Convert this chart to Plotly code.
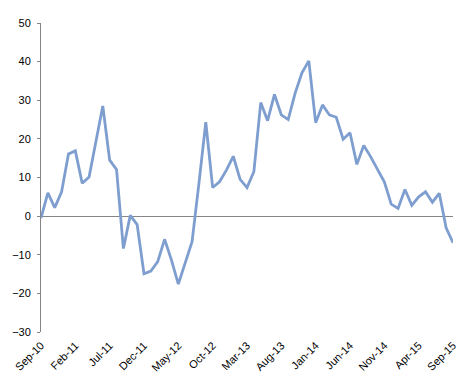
import plotly.graph_objects as go
import pandas as pd

months = [d.strftime("%b-%y") for d in pd.date_range("2010-09-01", "2015-09-01", freq="MS")]

values = [
    -0.5, 6.0, 2.2, 6.3, 16.1, 16.9, 8.5, 10.1, 19.3, 28.5,
    14.5, 12.1, -8.4, 0.2, -2.2, -14.9, -14.2, -11.8, -6.0, -11.4,
    -17.6, -12.3, -6.6, 8.5, 24.3, 7.4, 8.9, 11.9, 15.5, 9.5,
    7.4, 11.5, 29.4, 24.7, 31.5, 26.2, 25.0, 31.8, 37.1, 40.2,
    24.2, 28.8, 26.2, 25.6, 19.9, 21.6, 13.4, 18.3, 15.4, 12.1,
    8.9, 3.1, 2.0, 6.9, 2.8, 5.0, 6.3, 3.6, 5.9, -3.0,
    -6.9,
]

tick_labels = months[::5]

fig = go.Figure()
fig.add_trace(go.Scatter(
    x=months, y=values, mode="lines",
    line=dict(color="#7E9ED0", width=2.8),
    hoverinfo="skip",
))

# page body has an 8px default margin; size and margins compensate for it
fig.update_layout(
    width=468, height=375,
    margin=dict(l=33, r=23, t=15, b=51),
    paper_bgcolor="white", plot_bgcolor="white",
    showlegend=False,
    font=dict(family="Liberation Sans, Arial, sans-serif", size=11, color="#000000"),
)
fig.update_xaxes(
    type="category", automargin=False,
    range=[0, len(months) - 1],
    tickmode="array", tickvals=tick_labels, ticktext=tick_labels,
    tickangle=-45, showgrid=False, showline=False, zeroline=False,
    ticks="", tickfont=dict(size=11), ticklabelstandoff=4,
)
fig.update_yaxes(
    automargin=False,
    range=[-30, 50], dtick=10, tick0=0,
    showgrid=False, showline=True, linecolor="#868686", linewidth=1,
    ticks="outside", ticklen=3, tickcolor="#868686",
    zeroline=True, zerolinecolor="#868686", zerolinewidth=1,
    tickfont=dict(size=11), ticklabelstandoff=4,
)

fig.write_html("out.html")
